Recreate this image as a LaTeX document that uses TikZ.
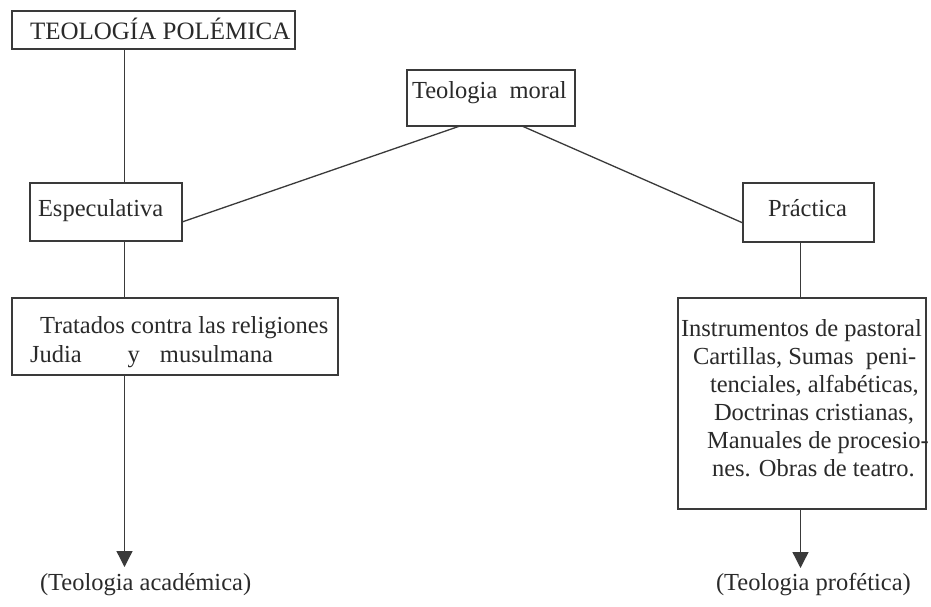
\documentclass[tikz,border=0pt]{standalone}
\usepackage{fontspec}
\setmainfont{Liberation Serif}
\usetikzlibrary{arrows.meta,calc}
\definecolor{linec}{HTML}{3A3A3A}
\definecolor{textc}{HTML}{2A2A2A}
\begin{document}
\begin{tikzpicture}[x=1pt,y=-1pt,
  every node/.style={inner sep=0pt, outer sep=0pt},
  box/.style={draw=linec, line width=1.3pt, anchor=north west},
  txt/.style={anchor=base west, text=textc, font=\fontsize{24.5}{28}\selectfont},
  conn/.style={draw=linec, line width=1.3pt},
  arr/.style={conn, -{Triangle[length=16pt,width=16pt]}}]
\useasboundingbox[fill=white] (0,0) rectangle (931,606);

% boxes
\node[box, minimum width=283pt, minimum height=38pt] (pol) at (12,11) {};
\node[box, minimum width=168pt, minimum height=56pt] (moral) at (407,70) {};
\node[box, minimum width=152pt, minimum height=58pt] (esp) at (30,183) {};
\node[box, minimum width=131pt, minimum height=59pt] (prac) at (743,183) {};
\node[box, minimum width=326pt, minimum height=77pt] (trat) at (12,298) {};
\node[box, minimum width=248pt, minimum height=211pt] (instr) at (678,298) {};

% texts
\node[txt, font=\fontsize{25}{28}\selectfont] (polt) at (30,39) {TEOLOGÍA POLÉMICA};
\node[txt] (moralt) at (412,98) {Teologia~~moral};
\node[txt] (espt) at (38,216) {Especulativa};
\node[txt] (pract) at (768,216) {Práctica};
\node[txt] (trat1) at (40,333) {Tratados contra las religiones};
\node[txt] (trat2) at (30,362) {Judia\hspace{46pt}y\hspace{20pt}musulmana};
\node[txt] (in1) at (681,336) {Instrumentos de pastoral};
\node[txt] (in2) at (693,364) {Cartillas, Sumas~~peni-};
\node[txt] (in3) at (710,392) {tenciales, alfabéticas,};
\node[txt] (in4) at (714,420) {Doctrinas cristianas,};
\node[txt] (in5) at (707,448) {Manuales de procesio-};
\node[txt] (in6) at (712,476) {nes. Obras de teatro.};
\node[txt] (acad) at (40,590) {(Teologia académica)};
\node[txt] (prof) at (716,590) {(Teologia profética)};

% connectors
\coordinate (vx1) at (124.5,0);
\coordinate (vx2) at (800.5,0);
\coordinate (tipL) at (124.5,567);
\coordinate (tipR) at (800.5,568);
\draw[conn] (pol.south -| vx1) -- (esp.north -| vx1);
\draw[conn] ([xshift=53pt]moral.south west) -- ([yshift=-39pt]esp.north east);
\draw[conn] ([xshift=115pt]moral.south west) -- ([yshift=-40pt]prac.north west);
\draw[conn] (esp.south -| vx1) -- (trat.north -| vx1);
\draw[conn] (prac.south -| vx2) -- (instr.north -| vx2);
\draw[arr] (trat.south -| vx1) -- (tipL);
\draw[arr] (instr.south -| vx2) -- (tipR);
\end{tikzpicture}
\end{document}
